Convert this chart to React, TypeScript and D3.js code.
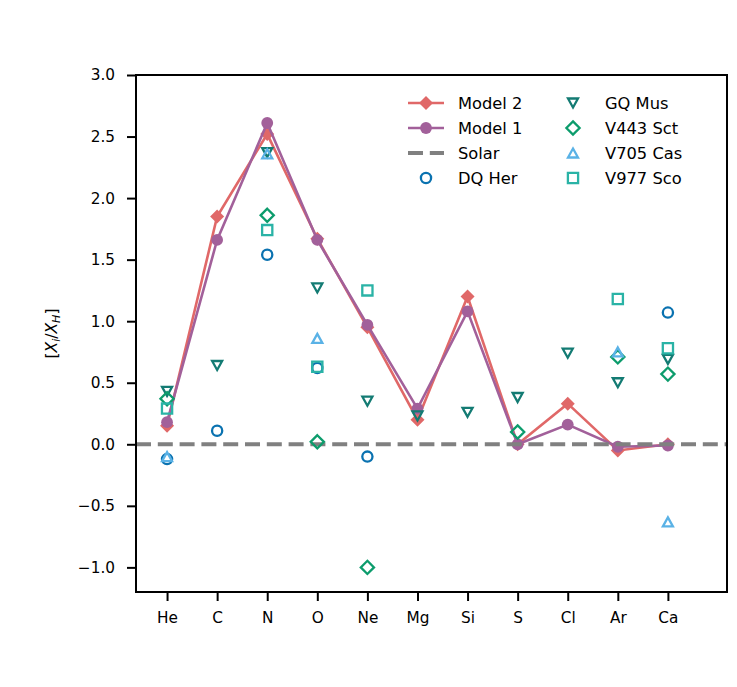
import * as d3 from "d3";
import { useEffect, useRef } from "react";

const elements = ["He", "C", "N", "O", "Ne", "Mg", "Si", "S", "Cl", "Ar", "Ca"];
const model2 = [0.15, 1.85, 2.52, 1.67, 0.95, 0.2, 1.2, 0.0, 0.33, -0.05, 0.0];
const model1 = [0.18, 1.66, 2.61, 1.66, 0.97, 0.29, 1.08, 0.0, 0.16, -0.02, -0.01];
const dqHer = [-0.12, 0.11, 1.54, 0.62, -0.1, null, null, null, null, null, 1.07];
const gqMus = [0.43, 0.64, 2.37, 1.27, 0.35, 0.23, 0.26, 0.38, 0.74, 0.5, 0.69];
const v443Sct = [0.37, null, 1.86, 0.02, -1.0, null, null, 0.1, null, 0.71, 0.57];
const v705Cas = [-0.1, null, 2.36, 0.86, null, null, null, null, null, 0.75, -0.63];
const v977Sco = [0.29, null, 1.74, 0.63, 1.25, null, null, null, null, 1.18, 0.78];
const yTicks = [-1.0, -0.5, 0.0, 0.5, 1.0, 1.5, 2.0, 2.5, 3.0];

// matplotlib-ish marker outlines centred on 0,0
const marker = (shape, r) => {
  if (shape === "circle") return `M${r},0A${r},${r} 0 1,1 ${-r},0A${r},${r} 0 1,1 ${r},0Z`;
  if (shape === "diamond") return `M0,${-r}L${r},0L0,${r}L${-r},0Z`;
  if (shape === "square") return `M${-r},${-r}H${r}V${r}H${-r}Z`;
  const h = r * 0.9;
  if (shape === "tri-up") return `M0,${-h}L${r},${h}L${-r},${h}Z`;
  return `M0,${h}L${r},${-h}L${-r},${-h}Z`;
};

const scatters = [
  { name: "DQ Her", values: dqHer, color: "#0a72b0", shape: "circle", r: 5.1 },
  { name: "GQ Mus", values: gqMus, color: "#137b73", shape: "tri-down", r: 5 },
  { name: "V443 Sct", values: v443Sct, color: "#0c9c6c", shape: "diamond", r: 6.6 },
  { name: "V705 Cas", values: v705Cas, color: "#5ab2e6", shape: "tri-up", r: 5 },
  { name: "V977 Sco", values: v977Sco, color: "#2ab3a6", shape: "square", r: 5.1 },
];

const models = [
  { name: "Model 2", values: model2, color: "#e06868", shape: "diamond", r: 7 },
  { name: "Model 1", values: model1, color: "#a2609a", shape: "circle", r: 5.9 },
];

export default function App() {
  const ref = useRef(null);

  useEffect(() => {
    const svg = d3.select(ref.current);
    svg.selectAll("*").remove();

    const width = 737;
    const height = 687;
    const left = 136, right = 727, top = 75, bottom = 592;

    svg.attr("width", width).attr("height", height);

    const x = d3.scaleLinear().domain([-0.62, 11.18]).range([left, right]);
    const y = d3.scaleLinear().domain([-1.2, 3.0]).range([bottom, top]);

    const font = "DejaVu Sans, sans-serif";
    const dash = "15 6.8";

    // models
    models.forEach((m) => {
      const line = d3.line().x((d, i) => x(i)).y((d) => y(d));
      svg.append("path")
        .attr("d", line(m.values))
        .attr("fill", "none")
        .attr("stroke", m.color)
        .attr("stroke-width", 2.6);
      svg.selectAll(null)
        .data(m.values)
        .join("path")
        .attr("d", marker(m.shape, m.r))
        .attr("transform", (d, i) => `translate(${x(i)},${y(d)})`)
        .attr("fill", m.color);
    });

    // solar
    svg.append("line")
      .attr("x1", left).attr("x2", right)
      .attr("y1", y(0)).attr("y2", y(0))
      .attr("stroke", "#808080")
      .attr("stroke-width", 4)
      .attr("stroke-dasharray", dash);

    scatters.forEach((s) => {
      const pts = s.values.map((v, i) => ({ v, i })).filter((d) => d.v !== null);
      svg.selectAll(null)
        .data(pts)
        .join("path")
        .attr("d", marker(s.shape, s.r))
        .attr("transform", (d) => `translate(${x(d.i)},${y(d.v)})`)
        .attr("fill", "none")
        .attr("stroke", s.color)
        .attr("stroke-width", 2.3);
    });

    // axes
    const gx = svg.append("g").attr("transform", `translate(0,${bottom})`)
      .call(d3.axisBottom(x).tickValues(d3.range(elements.length)).tickFormat((i) => elements[i]).tickSize(9).tickPadding(11));
    const gy = svg.append("g").attr("transform", `translate(${left},0)`)
      .call(d3.axisLeft(y).tickValues(yTicks).tickFormat((d) => d3.format(".1f")(d).replace("-", "\u2212")).tickSize(9).tickPadding(12));
    [gx, gy].forEach((g) => {
      g.select(".domain").remove();
      g.selectAll("line").attr("stroke", "#000").attr("stroke-width", 2);
      g.selectAll("text").attr("font-family", font).attr("font-size", 15.3).attr("fill", "#000");
    });

    svg.append("rect")
      .attr("x", left).attr("y", top)
      .attr("width", right - left).attr("height", bottom - top)
      .attr("fill", "none").attr("stroke", "#000").attr("stroke-width", 2);

    // y label
    const lab = svg.append("text")
      .attr("transform", `translate(57,${(top + bottom) / 2}) rotate(-90)`)
      .attr("text-anchor", "middle")
      .attr("font-family", font)
      .attr("font-size", 15.5);
    lab.append("tspan").text("[");
    lab.append("tspan").attr("font-style", "italic").text("X");
    lab.append("tspan").attr("font-style", "italic").attr("font-size", 11).attr("dy", 3).text("i");
    lab.append("tspan").attr("dy", -3).text("/");
    lab.append("tspan").attr("font-style", "italic").text("X");
    lab.append("tspan").attr("font-style", "italic").attr("font-size", 11).attr("dy", 3).text("H");
    lab.append("tspan").attr("dy", -3).text("]");

    // legend
    const rowY = [103, 128, 153, 178];
    const leg = svg.append("g");
    models.forEach((m, k) => {
      leg.append("line").attr("x1", 408).attr("x2", 444).attr("y1", rowY[k]).attr("y2", rowY[k])
        .attr("stroke", m.color).attr("stroke-width", 2.6);
      leg.append("path").attr("d", marker(m.shape, m.r)).attr("transform", `translate(426,${rowY[k]})`).attr("fill", m.color);
      leg.append("text").attr("x", 458).attr("y", rowY[k]).attr("dy", "0.36em").text(m.name);
    });
    leg.append("line").attr("x1", 408).attr("x2", 444).attr("y1", rowY[2]).attr("y2", rowY[2])
      .attr("stroke", "#808080").attr("stroke-width", 4).attr("stroke-dasharray", dash);
    leg.append("text").attr("x", 458).attr("y", rowY[2]).attr("dy", "0.36em").text("Solar");
    const legItems = [{ s: scatters[0], cx: 426, tx: 458, ry: rowY[3] }]
      .concat(scatters.slice(1).map((s, k) => ({ s, cx: 573, tx: 605, ry: rowY[k] })));
    legItems.forEach(({ s, cx, tx, ry }) => {
      leg.append("path").attr("d", marker(s.shape, s.r)).attr("transform", `translate(${cx},${ry})`)
        .attr("fill", "none").attr("stroke", s.color).attr("stroke-width", 2.3);
      leg.append("text").attr("x", tx).attr("y", ry).attr("dy", "0.36em").text(s.name);
    });
    leg.selectAll("text").attr("font-family", font).attr("font-size", 16.3).attr("fill", "#000");
  }, []);

  return <svg ref={ref} style={{ position: "absolute", left: 0, top: 0 }}></svg>;
}
